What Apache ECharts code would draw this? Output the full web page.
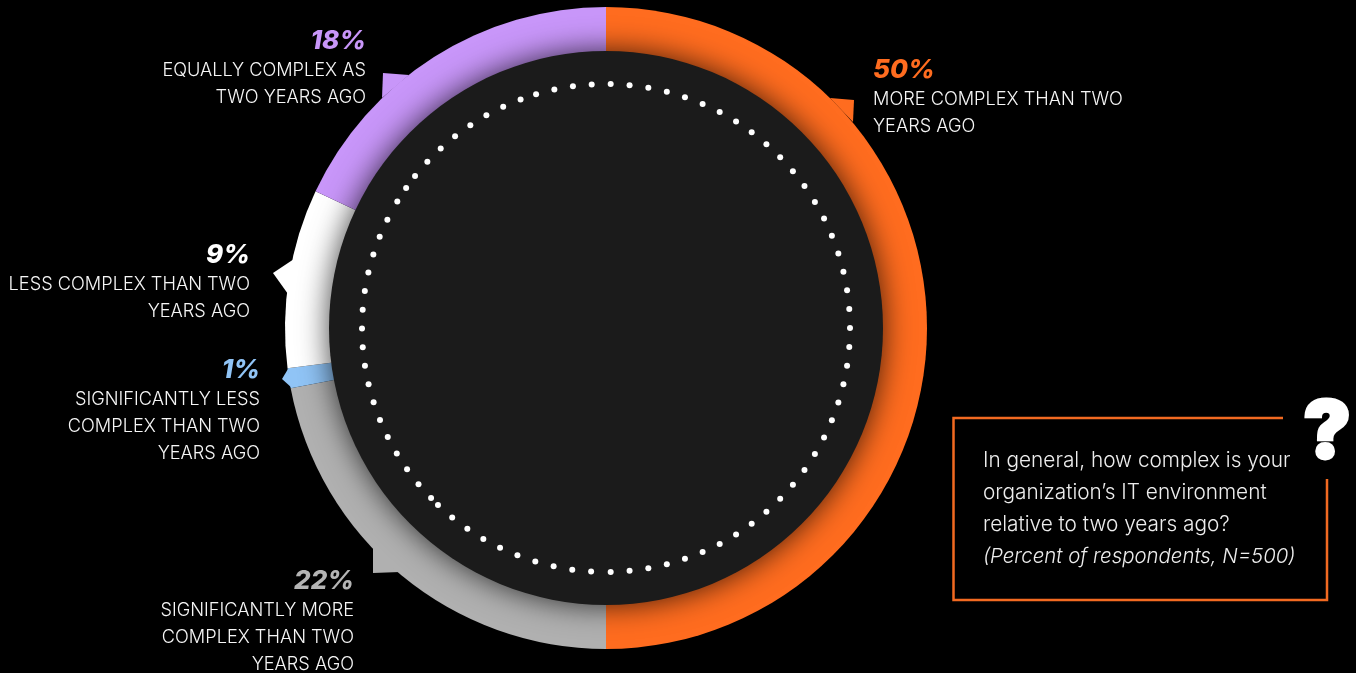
<!DOCTYPE html>
<html>
<head>
<meta charset="utf-8">
<style>html,body{margin:0;padding:0;background:#000}#c{width:1356px;height:673px}</style>
<script src="https://cdn.jsdelivr.net/npm/echarts@6/dist/echarts.min.js"></script>
</head>
<body>
<div id="c"></div>
<script>
// Survey answers, clockwise from twelve o'clock
const categories = [
  'MORE COMPLEX THAN TWO\nYEARS AGO',
  'SIGNIFICANTLY MORE\nCOMPLEX THAN TWO\nYEARS AGO',
  'SIGNIFICANTLY LESS\nCOMPLEX THAN TWO\nYEARS AGO',
  'LESS COMPLEX THAN TWO\nYEARS AGO',
  'EQUALLY COMPLEX AS\nTWO YEARS AGO'
];
const values = [50, 22, 1, 9, 18];
const colors = ['#FF6C1F', '#B0B0B0', '#90C4F6', '#FFFFFF', '#C896F9'];
const percentColors = ['#FF6C1F', '#B4B4B4', '#90C4F6', '#FFFFFF', '#C896F9'];
const questionLines = [
  'In general, how complex is your',
  'organization\u2019s IT environment',
  'relative to two years ago?'
];
const questionNote = '(Percent of respondents, N=500)';

// Layout
const cx = 606, cy = 328;
const outerR = 321, discR = 277, dotR = 244;
const labelSpots = [
  {x: 873, y: 55, align: 'left'},
  {x: 354, y: 566, align: 'right'},
  {x: 260, y: 355, align: 'right'},
  {x: 250, y: 240, align: 'right'},
  {x: 366, y: 26, align: 'right'}
];
const tails = [
  [[830, 98], [854, 100], [853, 122]],
  [[373, 547], [373, 573], [400, 572]],
  [[288, 369], [282, 379], [292, 388]],
  [[294, 259], [273, 273], [288, 294]],
  [[383, 73], [409, 75], [382, 98]]
];
// Dotted ring: runs of evenly spaced dots as [first angle, step, count],
// degrees clockwise from twelve o'clock
const dotRuns = [
  [1.1, 4.445, 41],
  [183.5, 4.447, 10],
  [225.8, 4.41, 17],
  [301.2, 3.8, 2],
  [308.5, 4.43, 8],
  [343.35, 4.43, 4]
];

const sans = 'Inter, Lato, sans-serif';
const chart = echarts.init(document.getElementById('c'), null, {renderer: 'canvas'});

const rich = {};
percentColors.forEach((c, i) => {
  rich['p' + i] = {fontFamily: sans, fontSize: 26, fontWeight: 800, fontStyle: 'italic', color: c, lineHeight: 31, align: labelSpots[i].align};
  rich['t' + i] = {fontFamily: sans, fontSize: 18.2, fontWeight: 300, color: '#F6F6F6', lineHeight: 27, align: labelSpots[i].align};
});

const graphic = [];
tails.forEach((pts, i) => graphic.push({
  type: 'polygon', z: 0, silent: true,
  shape: {points: pts}, style: {fill: colors[i]}
}));
dotRuns.forEach(([start, step, count]) => {
  for (let k = 0; k < count; k++) {
    const a = (start + k * step) * Math.PI / 180;
    graphic.push({
      type: 'circle', z: 20, silent: true,
      shape: {cx: cx + dotR * Math.sin(a), cy: cy - dotR * Math.cos(a), r: 3},
      style: {fill: '#fff'}
    });
  }
});
graphic.push({
  type: 'polyline', z: 1, silent: true,
  shape: {points: [[1283, 418], [953.5, 418], [953.5, 600], [1327, 600], [1327, 479]]},
  style: {stroke: '#F26A21', lineWidth: 2.5, fill: null}
});
questionLines.forEach((line, i) => graphic.push({
  type: 'text', z: 5, silent: true, x: 983, y: 461 + i * 32,
  style: {text: line, fill: '#EDEDED', font: '300 20.8px ' + sans, textVerticalAlign: 'middle'}
}));
graphic.push({
  type: 'text', z: 5, silent: true, x: 983, y: 557,
  style: {text: questionNote, fill: '#EDEDED', font: 'italic 300 20.4px ' + sans, textVerticalAlign: 'middle'}
});
graphic.push({
  type: 'text', z: 5, silent: true, x: 1327, y: 434,
  style: {text: '?', fill: '#fff', stroke: '#fff', lineWidth: 3, font: '900 80px ' + sans, textAlign: 'center', textVerticalAlign: 'middle'}
});

chart.setOption({
  backgroundColor: '#000',
  animation: false,
  graphic: graphic,
  series: [
    {
      type: 'pie',
      center: [cx, cy],
      radius: [0, outerR],
      startAngle: 90,
      clockwise: true,
      silent: true,
      avoidLabelOverlap: false,
      data: categories.map((name, i) => ({name, value: values[i], itemStyle: {color: colors[i]}})),
      label: {
        show: true,
        position: 'outside',
        rich: rich,
        formatter: p => '{p' + p.dataIndex + '|' + p.value + '%}\n' +
          p.name.split('\n').map(s => '{t' + p.dataIndex + '|' + s + '}').join('\n')
      },
      labelLine: {show: false},
      labelLayout: p => ({
        x: labelSpots[p.dataIndex].x,
        y: labelSpots[p.dataIndex].y,
        align: labelSpots[p.dataIndex].align,
        verticalAlign: 'top'
      })
    },
    {
      // Dark centre disc; its soft shadow falls on the ring
      type: 'pie',
      center: [cx, cy],
      radius: [0, discR],
      silent: true,
      z: 3,
      label: {show: false},
      labelLine: {show: false},
      data: [{value: 1, itemStyle: {color: '#1B1B1B', shadowBlur: 30, shadowColor: 'rgba(0,0,0,0.75)'}}]
    }
  ]
});
</script>
</body>
</html>
